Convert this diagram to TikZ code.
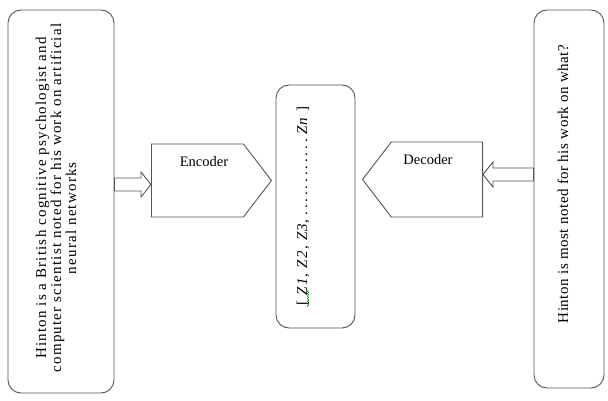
\documentclass[tikz,border=0pt]{standalone}
\usepackage{fontspec}
\setmainfont{Liberation Serif}
\newfontfamily\leftfont[LetterSpace=8]{Liberation Serif}
\newfontfamily\rightfont[LetterSpace=3.5]{Liberation Serif}
\newfontfamily\zfont[LetterSpace=9]{Liberation Serif}
\usetikzlibrary{shapes,arrows,positioning,calc,decorations.pathmorphing}

\definecolor{linegray}{RGB}{85,85,85}

\tikzset{
	box/.style={draw=linegray, line width=0.9pt, rounded corners=13pt, rotate=90, inner sep=0pt},
	coder/.style={draw=linegray, line width=0.9pt, shape=signal, signal pointer angle=105, inner sep=0pt},
	boxtext/.style={rotate=90, align=center, inner sep=0pt},
	lbl/.style={font=\fontsize{14.5}{16}\selectfont, inner sep=0pt},
	% hollow block arrow, drawn along the height of the target
	hollow/.style={draw=linegray, line width=0.9pt, to path={
		let \p1=(\tikztostart), \p2=(\tikztotarget), \n1={ifthenelse(\x2>\x1,1,-1)} in
		(\x1,\y2+6.5pt) -- (\x2-\n1*10pt,\y2+6.5pt) -- (\x2-\n1*10pt,\y2+12.5pt) -- (\x2,\y2)
		-- (\x2-\n1*10pt,\y2-12.5pt) -- (\x2-\n1*10pt,\y2-6.5pt) -- (\x1,\y2-6.5pt) -- cycle}}
}

\begin{document}
\begin{tikzpicture}[x=1pt, y=-1pt]
	\useasboundingbox (0,0) rectangle (608,401);

	% the boxes stand on their side, so south is their right edge
	\node[box, minimum width=383, minimum height=106] (lbox) at (61,201.5) {};
	\node[boxtext, font=\leftfont\fontsize{15}{15}\selectfont] (ltext) at (56,198) {Hinton is a British cognitive psychologist and\\ computer scientist noted for his work on artificial\\ \makebox[320pt][l]{\hspace*{84pt}neural networks}};

	\node[coder, signal to=east, minimum width=120, minimum height=73, anchor=west] (enc) at (151,180.5) {};
	\node[lbl] (enclbl) at (204,162) {Encoder};

	\node[box, minimum width=243, minimum height=79] (zbox) at (315.5,206.5) {};
	\node[boxtext, font=\zfont\fontsize{15}{16}\selectfont] (ztext) at (303,206) {[ \textit{Z1, Z2, Z3},\makebox[85pt]{\dotfill}\textit{Zn} ]};
	\draw[green!55!black, line width=0.5pt, decorate, decoration={snake, amplitude=0.7pt, segment length=2.5pt}] (308,307) -- (308,290);

	\node[coder, signal to=west, minimum width=120, minimum height=75, anchor=east] (dec) at (483,179.5) {};
	\node[lbl] (declbl) at (428,160) {Decoder};

	\node[box, minimum width=378, minimum height=70] (rbox) at (569,199) {};
	\node[boxtext, font=\rightfont\fontsize{15}{15}\selectfont] (rtext) at (563,184) {Hinton is most noted for his work on what?};

	\draw[hollow] (lbox.south) to ($(enc.west)+(0,4)$);
	\draw[hollow] (rbox.north) to ($(dec.east)+(0,-5)$);
\end{tikzpicture}
\end{document}
